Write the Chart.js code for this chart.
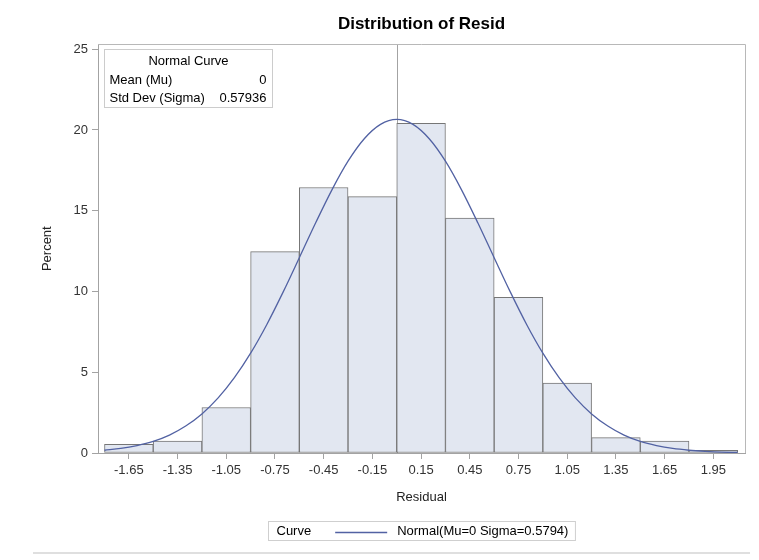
<!DOCTYPE html>
<html>
<head>
<meta charset="utf-8">
<title>Distribution of Resid</title>
<script src="https://cdn.jsdelivr.net/npm/chart.js@4.4.1/dist/chart.umd.min.js"></script>
<style>
  html, body { margin: 0; padding: 0; background: #ffffff; }
  #wrap { width: 759px; height: 560px; }
</style>
</head>
<body>
<div id="wrap"><canvas id="histo" width="759" height="560"></canvas></div>
<script>
// Histogram bins (midpoints) and percent per bin
const binMids = [-1.65, -1.35, -1.05, -0.75, -0.45, -0.15, 0.15, 0.45, 0.75, 1.05, 1.35, 1.65, 1.95];
const binPercents = [0.54, 0.74, 2.82, 12.47, 16.44, 15.87, 20.42, 14.55, 9.64, 4.33, 0.95, 0.74, 0.17];

// Fitted normal curve
const curveX = [-1.8, -1.7, -1.6, -1.5, -1.4, -1.3, -1.2, -1.1, -1.0, -0.9, -0.8, -0.7, -0.6, -0.5, -0.4, -0.3, -0.2, -0.1, 0,
                0.1, 0.2, 0.3, 0.4, 0.5, 0.6, 0.7, 0.8, 0.9, 1.0, 1.1, 1.2, 1.3, 1.4, 1.5, 1.6, 1.7, 1.8, 1.9, 2.0, 2.1];
const curveY = [0.17, 0.28, 0.46, 0.72, 1.11, 1.67, 2.42, 3.41, 4.66, 6.18, 7.96, 9.96, 12.09, 14.24, 16.28, 18.07, 19.46, 20.35, 20.66,
                20.35, 19.46, 18.07, 16.28, 14.24, 12.09, 9.96, 7.96, 6.18, 4.66, 3.41, 2.42, 1.67, 1.11, 0.72, 0.46, 0.28, 0.17, 0.10, 0.05, 0.03];

// Axis ticks
const xTickValues = [-1.65, -1.35, -1.05, -0.75, -0.45, -0.15, 0.15, 0.45, 0.75, 1.05, 1.35, 1.65, 1.95];
const yTickValues = [0, 5, 10, 15, 20, 25];

// Fit parameters
const mu = 0;
const sigma = 0.57936;
const curveLabel = 'Normal(Mu=0 Sigma=0.5794)';

const FONT = '"Liberation Sans", Arial, sans-serif';
const AXIS_GRAY = '#a3a3a3';
const CURVE_BLUE = '#5262a3';

// reference line at the mean + top/right frame
const framePlugin = {
    id: 'frame',
    beforeDatasetsDraw(chart) {
        const { ctx, chartArea: a, scales } = chart;
        const xm = Math.round(scales.x.getPixelForValue(mu)) + 0.5;
        ctx.save();
        ctx.strokeStyle = AXIS_GRAY;
        ctx.lineWidth = 1;
        ctx.beginPath();
        ctx.moveTo(xm, a.top);
        ctx.lineTo(xm, a.bottom);
        ctx.stroke();
        ctx.restore();
    },
    afterDraw(chart) {
        const { ctx, chartArea: a } = chart;
        ctx.save();
        ctx.strokeStyle = '#b8b8b8';
        ctx.lineWidth = 1;
        ctx.beginPath();
        ctx.moveTo(Math.round(a.left), Math.round(a.top) + 0.5);
        ctx.lineTo(Math.round(a.right) + 0.5, Math.round(a.top) + 0.5);
        ctx.lineTo(Math.round(a.right) + 0.5, Math.round(a.bottom));
        ctx.stroke();
        ctx.restore();
    }
};

// "Normal Curve" inset table in the upper left corner
const insetPlugin = {
    id: 'inset',
    afterDatasetsDraw(chart) {
        const { ctx, chartArea: a } = chart;
        const x0 = Math.round(a.left) + 6.5, y0 = Math.round(a.top) + 5.5;
        const w = 168, h = 58;
        ctx.save();
        ctx.fillStyle = '#ffffff';
        ctx.fillRect(x0, y0, w, h);
        ctx.strokeStyle = '#cccccc';
        ctx.lineWidth = 1;
        ctx.strokeRect(x0, y0, w, h);
        ctx.fillStyle = '#000000';
        ctx.font = '13px ' + FONT;
        ctx.textBaseline = 'middle';
        ctx.textAlign = 'center';
        ctx.fillText('Normal Curve', x0 + w / 2, y0 + 12);
        ctx.textAlign = 'left';
        ctx.fillText('Mean (Mu)', x0 + 5, y0 + 31);
        ctx.fillText('Std Dev (Sigma)', x0 + 5, y0 + 49);
        ctx.textAlign = 'right';
        ctx.fillText(String(mu), x0 + w - 6, y0 + 31);
        ctx.fillText(String(sigma), x0 + w - 6, y0 + 49);
        ctx.restore();
    }
};

// boxed legend below the axis + rule line at the bottom
const bottomLegendPlugin = {
    id: 'bottomLegend',
    afterDraw(chart) {
        const { ctx, chartArea: a } = chart;
        ctx.save();
        ctx.font = '13px ' + FONT;
        const wCurve = ctx.measureText('Curve').width;
        const wLabel = ctx.measureText(curveLabel).width;
        const lineLen = 52;
        const w = 8 + wCurve + 24 + lineLen + 10 + wLabel + 7;
        const cx = (a.left + a.right) / 2;
        const x0 = Math.round(cx - w / 2) + 0.5;
        const y0 = 521.5, h = 19;
        ctx.strokeStyle = '#cfcfcf';
        ctx.lineWidth = 1;
        ctx.strokeRect(x0, y0, w, h);
        ctx.fillStyle = '#000000';
        ctx.textBaseline = 'middle';
        ctx.textAlign = 'left';
        const ty = y0 + h / 2 + 0.5;
        ctx.fillText('Curve', x0 + 8, ty);
        const lx = x0 + 8 + wCurve + 24;
        ctx.strokeStyle = CURVE_BLUE;
        ctx.lineWidth = 1.3;
        ctx.beginPath();
        ctx.moveTo(lx, Math.round(ty) + 0.5);
        ctx.lineTo(lx + lineLen, Math.round(ty) + 0.5);
        ctx.stroke();
        ctx.fillText(curveLabel, lx + lineLen + 10, ty);
        ctx.strokeStyle = '#d4d4d4';
        ctx.lineWidth = 1.5;
        ctx.beginPath();
        ctx.moveTo(33, 553);
        ctx.lineTo(750, 553);
        ctx.stroke();
        ctx.restore();
    }
};

const ctx = document.getElementById('histo').getContext('2d');
const chart = new Chart(ctx, {
    type: 'bar',
    data: {
        datasets: [
            {
                type: 'line',
                label: curveLabel,
                data: curveX.map((x, i) => ({ x: x, y: curveY[i] })),
                borderColor: CURVE_BLUE,
                borderWidth: 1.3,
                pointRadius: 0,
                fill: false,
                cubicInterpolationMode: 'monotone',
                order: 0
            },
            {
                type: 'bar',
                label: 'Percent',
                data: binMids.map((x, i) => ({ x: x, y: binPercents[i] })),
                backgroundColor: '#e2e7f1',
                borderColor: '#767676',
                borderWidth: 1,
                borderSkipped: false,
                barPercentage: 1.0,
                categoryPercentage: 1.0,
                order: 1
            }
        ]
    },
    options: {
        responsive: false,
        animation: false,
        layout: { padding: { left: 0, right: 14, top: 0, bottom: 55 } },
        plugins: {
            legend: { display: false },
            tooltip: { enabled: false },
            title: {
                display: true,
                fullSize: false,
                text: 'Distribution of Resid',
                color: '#000000',
                font: { family: FONT, size: 17, weight: 'bold' },
                padding: { top: 14, bottom: 10 }
            }
        },
        scales: {
            x: {
                type: 'linear',
                min: -1.84,
                max: 2.145,
                offset: false,
                afterBuildTicks: (scale) => { scale.ticks = xTickValues.map(v => ({ value: v })); },
                afterFit: (scale) => { scale.height = 52; },
                grid: { display: true, offset: false, drawOnChartArea: false, drawTicks: true, tickLength: 6, color: AXIS_GRAY },
                border: { display: true, color: AXIS_GRAY },
                ticks: {
                    autoSkip: false,
                    maxRotation: 0,
                    padding: 4,
                    color: '#333333',
                    font: { family: FONT, size: 13 },
                    callback: (v) => Number(v).toFixed(2)
                },
                title: {
                    display: true,
                    text: 'Residual',
                    color: '#222222',
                    font: { family: FONT, size: 13 },
                    padding: { top: 0, bottom: 0 }
                }
            },
            y: {
                type: 'linear',
                min: 0,
                max: 25.3,
                afterBuildTicks: (scale) => { scale.ticks = yTickValues.map(v => ({ value: v })); },
                afterFit: (scale) => { scale.width = 98; },
                grid: { display: true, offset: false, drawOnChartArea: false, drawTicks: true, tickLength: 6, color: AXIS_GRAY },
                border: { display: true, color: AXIS_GRAY },
                ticks: {
                    padding: 4,
                    color: '#333333',
                    font: { family: FONT, size: 13 }
                },
                title: {
                    display: true,
                    text: 'Percent',
                    color: '#222222',
                    font: { family: FONT, size: 13 },
                    padding: { top: 40, bottom: 0 }
                }
            }
        }
    },
    plugins: [framePlugin, insetPlugin, bottomLegendPlugin]
});
</script>
</body>
</html>
